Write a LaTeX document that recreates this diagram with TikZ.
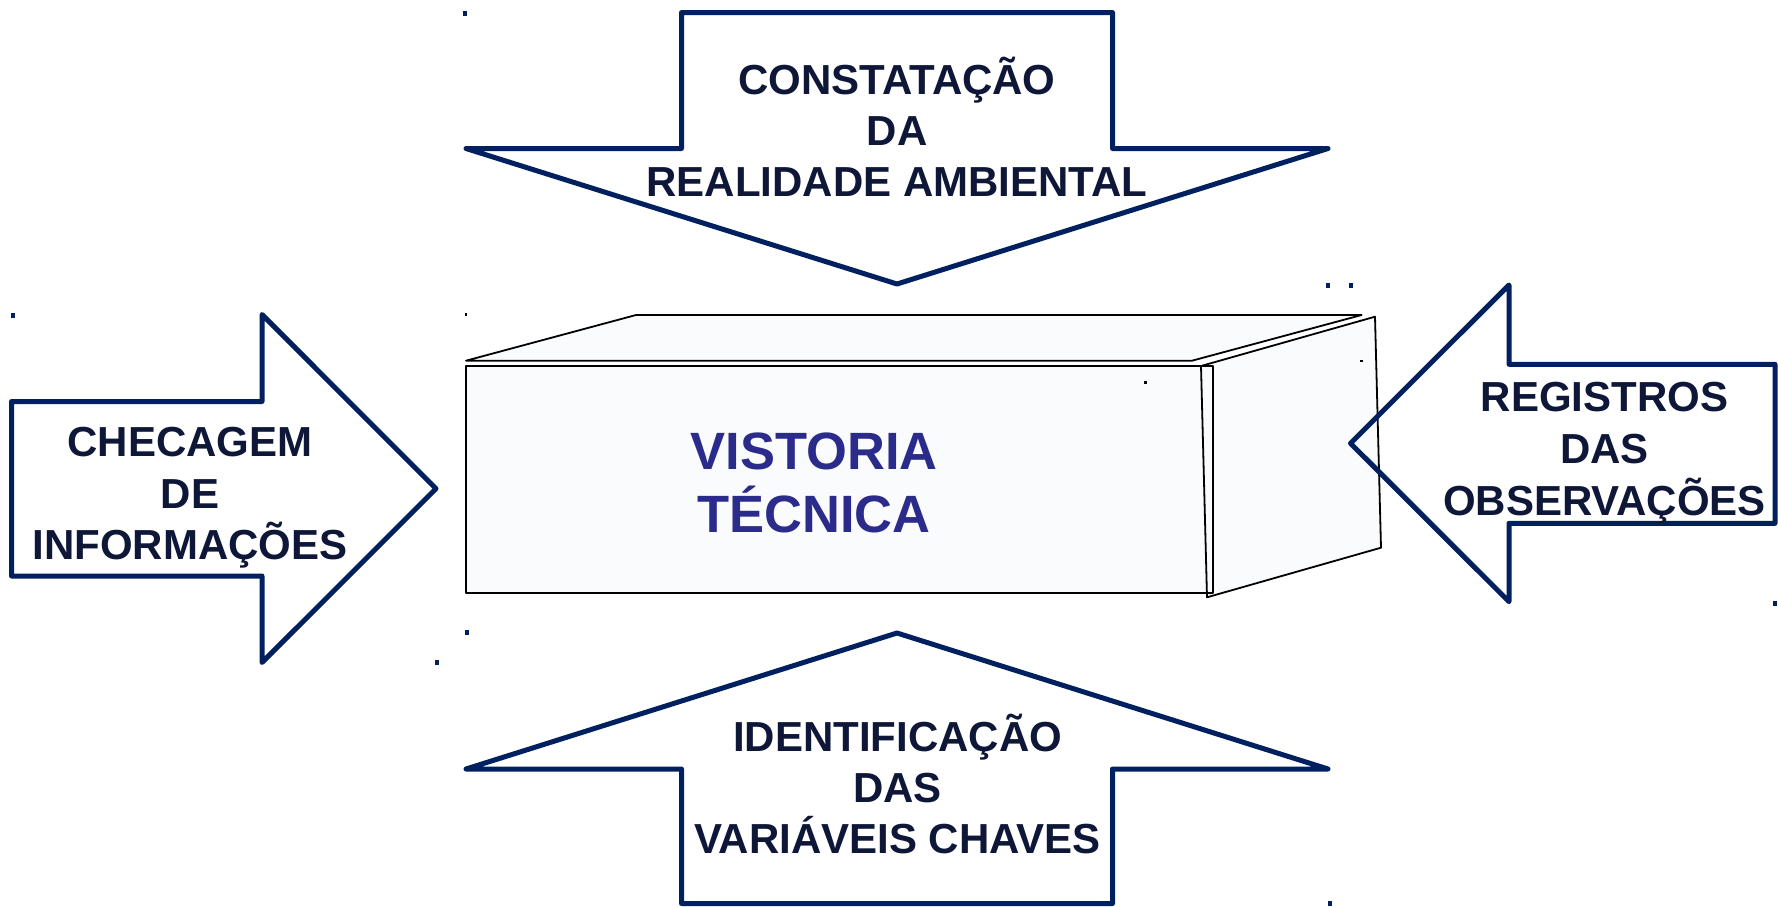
\documentclass[tikz,border=0pt]{standalone}
\usepackage{fontspec}
\setmainfont{Liberation Sans}
\definecolor{navy}{RGB}{0,32,96}
\definecolor{lblcol}{RGB}{14,23,56}
\definecolor{vtcol}{RGB}{43,43,140}
\definecolor{boxfill}{RGB}{250,251,252}
\newcommand\navydot[1]{\fill[navy] (#1) ++(-2,-2.5) rectangle ++(4,5);}
\newcommand\blackdot[1]{\fill[black] (#1) ++(-1.2,-1.2) rectangle ++(2.4,2.4);}
\begin{document}
\begin{tikzpicture}[x=1pt,y=-1pt,
  arrowshape/.style={draw=navy,line width=5pt,line join=round},
  boxline/.style={draw=black,line width=1.8pt,line join=round},
  lbl/.style={font=\bfseries\fontsize{42}{50}\selectfont,text=lblcol,anchor=base,inner sep=0pt},
  vt/.style={font=\bfseries\fontsize{52.5}{60}\selectfont,text=vtcol,anchor=base,inner sep=0pt}]
\useasboundingbox (0,0) rectangle (1778,906);
% 3D box: fills first, then outlines
\fill[boxfill] (466,366) rectangle (1213,593);
\fill[boxfill] (466,360.7) -- (636,315) -- (1361.6,315) -- (1192,360.7) -- cycle;
\fill[boxfill] (1201,366) -- (1375,316.7) -- (1381,547.7) -- (1207,597.3) -- cycle;
\draw[boxline] (466,366) rectangle (1213,593);
\draw[boxline] (466,360.7) -- (636,315) -- (1361.6,315) -- (1192,360.7) -- cycle;
\draw[boxline] (1201,366) -- (1375,316.7) -- (1381,547.7) -- (1207,597.3) -- cycle;
% arrows
\draw[arrowshape] (681.5,12.5) -- (1112.5,12.5) -- (1112.5,148.5) -- (1328,148.5) -- (897,284) -- (466,148.5) -- (681.5,148.5) -- cycle;
\draw[arrowshape] (681.5,903.5) -- (681.5,769) -- (466,769) -- (897,633) -- (1328,769) -- (1112.5,769) -- (1112.5,903.5) -- cycle;
\draw[arrowshape] (11.5,401.5) -- (262,401.5) -- (262,314.5) -- (436,488.6) -- (262,662.5) -- (262,576) -- (11.5,576) -- cycle;
\draw[arrowshape] (1775,364.3) -- (1509,364.3) -- (1509,285) -- (1350.5,443.3) -- (1509,601.7) -- (1509,523.3) -- (1775,523.3) -- cycle;
% labels
\node[vt] (v1) at (814,469) {VISTORIA};
\node[vt] (v2) at (814,532.3) {TÉCNICA};
\node[lbl] (t1) at (897,94.3) {CONSTATAÇÃO};
\node[lbl] (t2) at (897,145) {DA};
\node[lbl] (t3) at (897,196) {REALIDADE AMBIENTAL};
\node[lbl] (b1) at (897.5,751.7) {IDENTIFICAÇÃO};
\node[lbl] (b2) at (897.5,802.5) {DAS};
\node[lbl] (b3) at (897.5,853.3) {VARIÁVEIS CHAVES};
\node[lbl] (l1) at (190,456.7) {CHECAGEM};
\node[lbl] (l2) at (190,508.3) {DE};
\node[lbl] (l3) at (190,559.3) {INFORMAÇÕES};
\node[lbl] (r1) at (1604.5,411.7) {REGISTROS};
\node[lbl] (r2) at (1604.5,463.3) {DAS};
\node[lbl] (r3) at (1604.5,515) {OBSERVAÇÕES};
% small marks
\navydot{465,13}
\navydot{1328.3,285}
\navydot{1351,285}
\navydot{12.7,315}
\navydot{436.5,662.3}
\navydot{1775,603.3}
\navydot{466.8,632.7}
\navydot{1329.5,903.3}
\blackdot{465.7,314.3}
\blackdot{1145.5,382.3}
\blackdot{1361.6,360.7}
\end{tikzpicture}
\end{document}
